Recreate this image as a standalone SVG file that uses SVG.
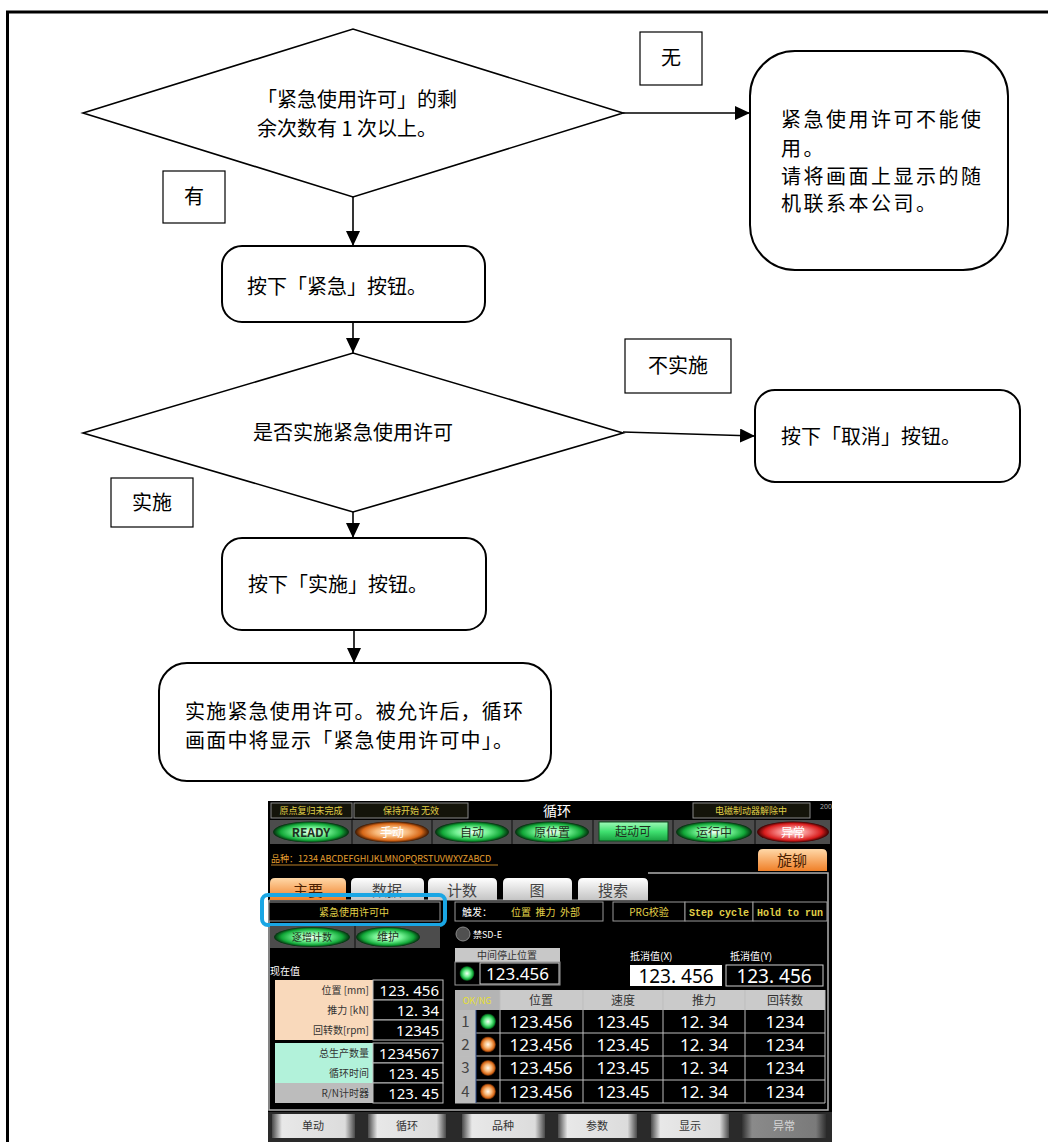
<svg xmlns="http://www.w3.org/2000/svg" width="1048" height="1142" viewBox="0 0 1048 1142">
<style>
.ln{stroke:#000;stroke-width:1.6;fill:none}
.dm{fill:#fff;stroke:#000;stroke-width:1.6}
.nd{fill:#fff;stroke:#000;stroke-width:2}
.lb{fill:#fff;stroke:#000;stroke-width:1.2}
.t{font-family:"Noto Sans CJK SC","Noto Sans",sans-serif;font-size:20px;fill:#000}
.tc{text-anchor:middle}
.s{font-family:"Noto Sans CJK SC","Noto Sans",sans-serif}
.y{fill:#e0d048}
.w{fill:#fff}
.dk{fill:#203020}
.num{font-family:"Noto Sans","DejaVu Sans",sans-serif;fill:#fff}
.cell{fill:#000;stroke:#9a9a9a;stroke-width:1}
.gl{stroke:#bdbdbd;stroke-width:1;fill:none}
</style>
<defs>
<marker id="ah" markerUnits="userSpaceOnUse" markerWidth="16" markerHeight="14" refX="15" refY="7" orient="auto">
<path d="M0,0 L15,7 L0,14 z" fill="#000"/>
</marker>
<radialGradient id="gG" cx="50%" cy="50%" r="50%">
<stop offset="0" stop-color="#f4fff4"/><stop offset="0.45" stop-color="#70f090"/><stop offset="0.8" stop-color="#12a838"/><stop offset="1" stop-color="#032a0c"/>
</radialGradient>
<radialGradient id="gO" cx="50%" cy="50%" r="50%">
<stop offset="0" stop-color="#fffaf0"/><stop offset="0.45" stop-color="#f8b878"/><stop offset="0.8" stop-color="#d86818"/><stop offset="1" stop-color="#3a1600"/>
</radialGradient>
<radialGradient id="gR" cx="50%" cy="50%" r="50%">
<stop offset="0" stop-color="#fff4f4"/><stop offset="0.45" stop-color="#f47a7a"/><stop offset="0.8" stop-color="#d81c1c"/><stop offset="1" stop-color="#3a0000"/>
</radialGradient>
<linearGradient id="gGR" x1="0" y1="0" x2="0" y2="1">
<stop offset="0" stop-color="#9ff8b8"/><stop offset="0.5" stop-color="#40e070"/><stop offset="1" stop-color="#18a040"/>
</linearGradient>
<linearGradient id="gTO" x1="0" y1="0" x2="0" y2="1">
<stop offset="0" stop-color="#ffd8a8"/><stop offset="1" stop-color="#f08028"/>
</linearGradient>
<linearGradient id="gTG" x1="0" y1="0" x2="0" y2="1">
<stop offset="0" stop-color="#ffffff"/><stop offset="1" stop-color="#c4c4c4"/>
</linearGradient>
<linearGradient id="gB" x1="0" y1="0" x2="1" y2="0">
<stop offset="0" stop-color="#4a4a4a"/><stop offset="0.12" stop-color="#e8e8e8"/><stop offset="0.88" stop-color="#dcdcdc"/><stop offset="1" stop-color="#4a4a4a"/>
</linearGradient>
<linearGradient id="gBD" x1="0" y1="0" x2="1" y2="0">
<stop offset="0" stop-color="#303030"/><stop offset="0.12" stop-color="#8a8a8a"/><stop offset="0.88" stop-color="#7a7a7a"/><stop offset="1" stop-color="#303030"/>
</linearGradient>
</defs>

<rect width="1048" height="1142" fill="#fff"/>
<!-- outer frame -->
<path d="M7.5,1142 V12 H1048" stroke="#000" stroke-width="3" fill="none"/>

<g id="connectors">
<line class="ln" x1="623" y1="113" x2="750" y2="113" marker-end="url(#ah)"/>
<line class="ln" x1="353" y1="197" x2="353" y2="246" marker-end="url(#ah)"/>
<line class="ln" x1="353" y1="322" x2="353" y2="353" marker-end="url(#ah)"/>
<line class="ln" x1="623" y1="432" x2="755" y2="436" marker-end="url(#ah)"/>
<line class="ln" x1="353" y1="512" x2="353" y2="538" marker-end="url(#ah)"/>
<line class="ln" x1="354" y1="630" x2="354" y2="663" marker-end="url(#ah)"/>
</g>

<g id="decision1">
<polygon class="dm" points="83,113 353,29 623,113 353,197"/>
<text class="t" x="257" y="107">「紧急使用许可」的剩</text>
<text class="t" x="257" y="136">余次数有 1 次以上。</text>
</g>
<g id="label-none">
<rect class="lb" x="640" y="32" width="62" height="53"/>
<text class="t tc" x="671" y="65">无</text>
</g>
<g id="node-unavailable">
<rect class="nd" x="750" y="51" width="258" height="219" rx="45" ry="45"/>
<text class="t" x="781" y="127" font-size="19" letter-spacing="2.5">紧急使用许可不能使</text>
<text class="t" x="781" y="156" font-size="19" letter-spacing="2.5">用。</text>
<text class="t" x="781" y="184" font-size="19" letter-spacing="2.5">请将画面上显示的随</text>
<text class="t" x="781" y="211" font-size="19" letter-spacing="2.5">机联系本公司。</text>
</g>
<g id="label-yes">
<rect class="lb" x="163" y="171" width="62" height="52"/>
<text class="t tc" x="194" y="204">有</text>
</g>
<g id="node-press-emergency">
<rect class="nd" x="222" y="246" width="263" height="76" rx="20" ry="20"/>
<text class="t" x="247" y="294">按下「紧急」按钮。</text>
</g>
<g id="decision2">
<polygon class="dm" points="83,433 353,353 623,433 353,512"/>
<text class="t tc" x="353" y="440">是否实施紧急使用许可</text>
</g>
<g id="label-not-execute">
<rect class="lb" x="625" y="339" width="106" height="54"/>
<text class="t tc" x="678" y="373">不实施</text>
</g>
<g id="node-cancel">
<rect class="nd" x="755" y="390" width="265" height="92" rx="20" ry="20"/>
<text class="t" x="781" y="444">按下「取消」按钮。</text>
</g>
<g id="label-execute">
<rect class="lb" x="111" y="478" width="82" height="49"/>
<text class="t tc" x="152" y="510">实施</text>
</g>
<g id="node-press-execute">
<rect class="nd" x="222" y="538" width="264" height="92" rx="20" ry="20"/>
<text class="t" x="248" y="592">按下「实施」按钮。</text>
</g>
<g id="node-result">
<rect class="nd" x="159" y="663" width="392" height="118" rx="28" ry="28"/>
<text class="t" x="185" y="719" font-size="20" letter-spacing="1.2">实施紧急使用许可。被允许后，循环</text>
<text class="t" x="185" y="748" font-size="20" letter-spacing="1.2">画面中将显示「紧急使用许可中」。</text>
</g>

<g id="hmi-screen">
<rect x="268" y="801" width="564" height="341" fill="#000"/>
<!-- status row -->
<rect x="271" y="803" width="81" height="15" fill="#14140a" stroke="#8a8a8a"/>
<text class="s y" x="311" y="814" font-size="9" text-anchor="middle">原点复归未完成</text>
<rect x="354" y="803" width="114" height="15" fill="#14140a" stroke="#8a8a8a"/>
<text class="s y" x="411" y="814" font-size="9" text-anchor="middle">保持开始 无效</text>
<text class="s w" x="557" y="816" font-size="14" text-anchor="middle">循环</text>
<rect x="693" y="803" width="117" height="15" fill="#14140a" stroke="#8a8a8a"/>
<text class="s y" x="751" y="814" font-size="9" text-anchor="middle">电磁制动器解除中</text>
<text class="num" x="820" y="809" font-size="7" style="fill:#aaa">200</text>

<!-- lamp row -->
<rect x="270" y="820" width="560" height="24" fill="#4c4c4c"/>
<g stroke="#222" stroke-width="1.5">
<line x1="352" y1="820" x2="352" y2="844"/><line x1="432" y1="820" x2="432" y2="844"/><line x1="512" y1="820" x2="512" y2="844"/>
<line x1="593" y1="820" x2="593" y2="844"/><line x1="673" y1="820" x2="673" y2="844"/><line x1="755" y1="820" x2="755" y2="844"/>
</g>
<ellipse cx="311" cy="832" rx="38" ry="10.5" fill="url(#gG)"/>
<text class="s dk" x="311" y="837" font-size="12" font-weight="bold" text-anchor="middle">READY</text>
<ellipse cx="392" cy="832" rx="37" ry="10.5" fill="url(#gO)"/>
<text class="s w" x="392" y="837" font-size="12" text-anchor="middle">手动</text>
<ellipse cx="472" cy="832" rx="37" ry="10.5" fill="url(#gG)"/>
<text class="s dk" x="472" y="837" font-size="12" text-anchor="middle">自动</text>
<ellipse cx="552" cy="832" rx="37" ry="10.5" fill="url(#gG)"/>
<text class="s dk" x="552" y="837" font-size="12" text-anchor="middle">原位置</text>
<rect x="599" y="822" width="69" height="19" fill="url(#gGR)" stroke="#0a4a1a"/>
<text class="s dk" x="633" y="836" font-size="12" text-anchor="middle">起动可</text>
<ellipse cx="714" cy="832" rx="38" ry="10.5" fill="url(#gG)"/>
<text class="s dk" x="714" y="837" font-size="12" text-anchor="middle">运行中</text>
<ellipse cx="793" cy="832" rx="36" ry="10.5" fill="url(#gR)"/>
<text class="s w" x="793" y="837" font-size="12" text-anchor="middle">异常</text>

<!-- product row -->
<text class="s" x="271" y="862" font-size="9" fill="#e8a030">品种：1234 ABCDEFGHIJKLMNOPQRSTUVWXYZABCD</text>
<line x1="271" y1="865" x2="498" y2="865" stroke="#e8a030" stroke-width="0.8"/>
<path d="M758,871 V854 Q758,849 763,849 H822 Q827,849 827,854 V871 Z" fill="url(#gTO)"/>
<text class="s" x="792" y="866" font-size="15" fill="#4a2000" text-anchor="middle">旋铆</text>

<!-- content frame -->
<path d="M648,873 H828 V1110 H269 V900" stroke="#b0b0b0" stroke-width="1.5" fill="none"/>
<line x1="269" y1="900" x2="648" y2="900" stroke="#b0b0b0" stroke-width="1.2"/>

<!-- tabs -->
<path d="M270,900 V883 Q270,878 275,878 H341 Q346,878 346,883 V900 Z" fill="url(#gTO)"/>
<text class="s" x="308" y="896" font-size="15" fill="#4a2000" text-anchor="middle">主要</text>
<path d="M351,900 V883 Q351,878 356,878 H419 Q424,878 424,883 V900 Z" fill="url(#gTG)"/>
<text class="s" x="387" y="896" font-size="15" fill="#444" text-anchor="middle">数据</text>
<path d="M428,900 V883 Q428,878 433,878 H492 Q497,878 497,883 V900 Z" fill="url(#gTG)"/>
<text class="s" x="462" y="896" font-size="15" fill="#444" text-anchor="middle">计数</text>
<path d="M503,900 V883 Q503,878 508,878 H567 Q572,878 572,883 V900 Z" fill="url(#gTG)"/>
<text class="s" x="537" y="896" font-size="15" fill="#444" text-anchor="middle">图</text>
<path d="M578,900 V883 Q578,878 583,878 H643 Q648,878 648,883 V900 Z" fill="url(#gTG)"/>
<text class="s" x="613" y="896" font-size="15" fill="#444" text-anchor="middle">搜索</text>

<!-- info row -->
<rect x="269" y="902" width="171" height="19" fill="#000" stroke="#999"/>
<text class="s y" x="354" y="915.5" font-size="10" text-anchor="middle">紧急使用许可中</text>
<rect x="262" y="895" width="183" height="30" rx="6" ry="6" fill="none" stroke="#1aa6e4" stroke-width="4"/>
<rect x="455" y="902" width="148" height="19" fill="#000" stroke="#999"/>
<text class="s w" x="462" y="915.5" font-size="10">触发：</text>
<text class="s y" x="511" y="915.5" font-size="10" xml:space="preserve">位置  推力  外部</text>
<rect x="613" y="902" width="72" height="19" fill="#000" stroke="#999"/>
<text class="s y" x="649" y="915.5" font-size="10" text-anchor="middle">PRG校验</text>
<rect x="685" y="902" width="68" height="19" fill="#000" stroke="#999"/>
<text x="719" y="915.5" font-size="10" font-family="Liberation Mono, monospace" font-weight="bold" fill="#e0d048" text-anchor="middle">Step cycle</text>
<rect x="753" y="902" width="74" height="19" fill="#000" stroke="#999"/>
<text x="790" y="915.5" font-size="10" font-family="Liberation Mono, monospace" font-weight="bold" fill="#e0d048" text-anchor="middle">Hold to run</text>

<!-- count / maintenance buttons -->
<rect x="270" y="926" width="170" height="22" fill="#4c4c4c"/>
<line x1="355" y1="926" x2="355" y2="948" stroke="#222" stroke-width="1.5"/>
<ellipse cx="312" cy="937" rx="38" ry="10" fill="url(#gG)"/>
<text class="s dk" x="312" y="941" font-size="10" text-anchor="middle">逐增计数</text>
<ellipse cx="388" cy="937" rx="32" ry="10" fill="url(#gG)"/>
<text class="s dk" x="388" y="941" font-size="11" text-anchor="middle">维护</text>
<circle cx="463" cy="934" r="7" fill="#505050" stroke="#8a8a8a"/>
<text class="s w" x="473" y="938" font-size="9">禁SD-E</text>

<text class="s w" x="270" y="975" font-size="10">现在值</text>

<!-- current values -->
<rect x="275" y="980" width="98" height="60" fill="#f9d9bb"/>
<rect x="275" y="1043" width="98" height="40" fill="#b2f2da"/>
<rect x="275" y="1083" width="98" height="20" fill="#bcbcbc"/>
<g fill="#000" stroke="#bdbdbd" stroke-width="1">
<rect x="373" y="980" width="70" height="20"/><rect x="373" y="1000" width="70" height="20"/><rect x="373" y="1020" width="70" height="20"/>
<rect x="373" y="1043" width="70" height="20"/><rect x="373" y="1063" width="70" height="20"/><rect x="373" y="1083" width="70" height="20"/>
</g>
<g class="s" font-size="10" fill="#333" text-anchor="end">
<text x="369" y="994">位置 [mm]</text>
<text x="369" y="1014">推力 [kN]</text>
<text x="369" y="1034">回转数[rpm]</text>
<text x="369" y="1057">总生产数量</text>
<text x="369" y="1077">循环时间</text>
<text x="369" y="1097">R/N计时器</text>
</g>
<g class="num" font-size="15" text-anchor="end">
<text x="439" y="996">123. 456</text>
<text x="439" y="1016">12. 34</text>
<text x="439" y="1036">12345</text>
<text x="439" y="1059">1234567</text>
<text x="439" y="1079">123. 45</text>
<text x="439" y="1099">123. 45</text>
</g>

<!-- intermediate stop position -->
<rect x="455" y="948" width="105" height="14" fill="#c8c8c8"/>
<text class="s" x="507" y="959" font-size="10" fill="#333" text-anchor="middle">中间停止位置</text>
<rect x="455" y="962" width="105" height="23" fill="#000" stroke="#9a9a9a"/>
<circle cx="467" cy="973.5" r="7.5" fill="url(#gG)"/>
<rect x="480" y="963" width="79" height="21" fill="none" stroke="#cfcfcf"/>
<text class="num" x="486" y="980" font-size="17">123.456</text>

<!-- offsets -->
<text class="s w" x="630" y="960" font-size="10">抵消值(X)</text>
<rect x="630" y="965" width="92" height="21" fill="#fff"/>
<text class="num" x="676" y="983" font-size="19" text-anchor="middle" style="fill:#000">123. 456</text>
<text class="s w" x="730" y="960" font-size="10">抵消值(Y)</text>
<rect x="726" y="965" width="97" height="21" fill="#000" stroke="#cfcfcf"/>
<text class="num" x="774" y="983" font-size="19" text-anchor="middle">123. 456</text>

<!-- table -->
<rect x="455" y="990" width="45" height="20" fill="#b4b4b4"/>
<text class="s" x="477" y="1004" font-size="9" fill="#e8e030" text-anchor="middle">OK/NG</text>
<rect x="500" y="990" width="325" height="20" fill="#cacaca"/>
<g class="s" font-size="12" fill="#333" text-anchor="middle">
<text x="541" y="1005">位置</text><text x="623" y="1005">速度</text><text x="704" y="1005">推力</text><text x="785" y="1005">回转数</text>
</g>
<rect x="455" y="1010" width="21" height="93" fill="#bcbcbc"/>
<rect x="476" y="1010" width="349" height="93" fill="#000"/>
<g class="gl">
<line x1="455" y1="1033" x2="825" y2="1033"/><line x1="455" y1="1056" x2="825" y2="1056"/><line x1="455" y1="1080" x2="825" y2="1080"/>
<line x1="455" y1="1103" x2="825" y2="1103"/>
<line x1="583" y1="990" x2="583" y2="1103"/><line x1="663" y1="990" x2="663" y2="1103"/><line x1="745" y1="990" x2="745" y2="1103"/>
<line x1="500" y1="990" x2="500" y2="1103"/><line x1="825" y1="990" x2="825" y2="1103"/>
</g>
<line x1="476" y1="1010" x2="476" y2="1103" stroke="#2a4a8a" stroke-width="1"/>
<g class="s" font-size="15" fill="#444" text-anchor="middle">
<text x="465.5" y="1027">1</text><text x="465.5" y="1050">2</text><text x="465.5" y="1073">3</text><text x="465.5" y="1097">4</text>
</g>
<circle cx="488" cy="1021.5" r="8" fill="url(#gG)"/>
<circle cx="488" cy="1044.5" r="8" fill="url(#gO)"/>
<circle cx="488" cy="1068" r="8" fill="url(#gO)"/>
<circle cx="488" cy="1091.5" r="8" fill="url(#gO)"/>
<g class="num" font-size="17" text-anchor="middle">
<text x="541" y="1028">123.456</text><text x="623" y="1028">123.45</text><text x="704" y="1028">12. 34</text><text x="785" y="1028">1234</text>
<text x="541" y="1051">123.456</text><text x="623" y="1051">123.45</text><text x="704" y="1051">12. 34</text><text x="785" y="1051">1234</text>
<text x="541" y="1074">123.456</text><text x="623" y="1074">123.45</text><text x="704" y="1074">12. 34</text><text x="785" y="1074">1234</text>
<text x="541" y="1098">123.456</text><text x="623" y="1098">123.45</text><text x="704" y="1098">12. 34</text><text x="785" y="1098">1234</text>
</g>

<!-- bottom buttons -->
<rect x="268" y="1112" width="564" height="30" fill="#2a2a2a"/>
<rect x="272" y="1114" width="83" height="24" fill="url(#gB)"/>
<rect x="368" y="1114" width="78" height="24" fill="url(#gB)"/>
<rect x="462" y="1114" width="83" height="24" fill="url(#gB)"/>
<rect x="558" y="1114" width="79" height="24" fill="url(#gB)"/>
<rect x="651" y="1114" width="78" height="24" fill="url(#gB)"/>
<rect x="742" y="1114" width="84" height="24" fill="url(#gBD)"/>
<g class="s" font-size="11" fill="#333" text-anchor="middle">
<text x="313" y="1130">单动</text><text x="407" y="1130">循环</text><text x="503" y="1130">品种</text>
<text x="597" y="1130">参数</text><text x="690" y="1130">显示</text>
</g>
<text class="s" x="784" y="1130" font-size="11" fill="#d8d8d8" text-anchor="middle">异常</text>
</g>
</svg>
